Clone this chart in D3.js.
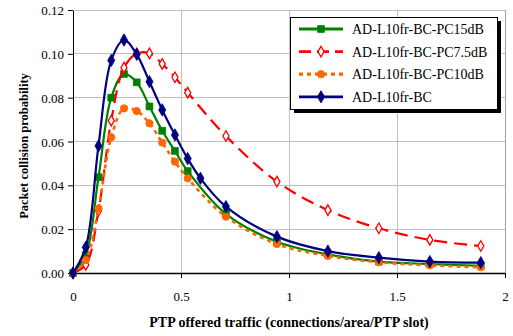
<!DOCTYPE html>
<html><head><meta charset="utf-8">
<script src="https://cdn.jsdelivr.net/npm/d3@7"></script>
<style>
html,body{margin:0;padding:0;background:#fff;}
svg{display:block;}
svg text{font-family:"Liberation Serif","Times New Roman",Times,serif !important;}
</style></head>
<body><svg id="c" width="513" height="336"></svg>
<script>
// ---- data ----
const seriesNames = ["AD-L10fr-BC-PC15dB","AD-L10fr-BC-PC7.5dB","AD-L10fr-BC-PC10dB","AD-L10fr-BC"];
const xFull = [0,0.059,0.118,0.177,0.236,0.295,0.354,0.413,0.472,0.531,0.590,0.708,0.944,1.180,1.416,1.652,1.888];
const xNo059 = [0,0.059,0.118,0.177,0.236,0.295,0.354,0.413,0.472,0.531,0.708,0.944,1.180,1.416,1.652,1.888];
const yPC15 = [0,0.0082,0.0437,0.0800,0.0908,0.0870,0.0760,0.0649,0.0557,0.0465,0.0270,0.0143,0.0085,0.0052,0.0041,0.0033];
const yPC75 = [0,0.0037,0.0284,0.0695,0.0937,0.1002,0.1002,0.0954,0.0893,0.0823,0.0625,0.0417,0.0287,0.0204,0.0151,0.0123];
const yPC10 = [0,0.0059,0.0295,0.0619,0.0751,0.0739,0.0683,0.0595,0.0508,0.0432,0.0257,0.0132,0.0078,0.0049,0.0035,0.0026];
const yBC   = [0,0.0117,0.0580,0.0970,0.1063,0.0998,0.0873,0.0744,0.0630,0.0522,0.0432,0.0303,0.0166,0.0100,0.0070,0.0052,0.0047];
const xTicks = [0,0.5,1,1.5,2];
const yTicks = [0,0.02,0.04,0.06,0.08,0.10,0.12];
const xTitle = "PTP offered traffic (connections/area/PTP slot)";
const yTitle = "Packet collision probability";

// ---- layout ----
const FF = '"Liberation Serif","Times New Roman",Times,serif';
const svg = d3.select("#c").attr("font-family",FF);
const L = 73, R = 505, T = 10, B = 273;
const x = d3.scaleLinear().domain([0,2]).range([L,R]);
const y = d3.scaleLinear().domain([0,0.12]).range([B,T]);

// gridlines
const grid = svg.append("g");
grid.selectAll("line.h").data(yTicks.filter(d=>d>0)).join("line")
  .attr("x1",L).attr("x2",R).attr("y1",d=>y(d)).attr("y2",d=>y(d))
  .attr("stroke","#c0c0c0").attr("stroke-width",1).attr("shape-rendering","crispEdges");
grid.selectAll("line.v").data(xTicks.filter(d=>d>0)).join("line")
  .attr("y1",T).attr("y2",B).attr("x1",d=>x(d)).attr("x2",d=>x(d))
  .attr("stroke","#c0c0c0").attr("stroke-width",1).attr("shape-rendering","crispEdges");

// axes
const xAxis = svg.append("g").attr("transform",`translate(0,${B})`)
  .call(d3.axisBottom(x).tickValues(xTicks).tickSize(5).tickSizeOuter(0).tickFormat(d3.format("")));
const yAxis = svg.append("g").attr("transform",`translate(${L},0)`)
  .call(d3.axisLeft(y).tickValues(yTicks).tickSize(5).tickSizeOuter(0).tickFormat(d3.format(".2f")));
[xAxis,yAxis].forEach(a=>{
  a.attr("font-family",FF).attr("font-size",13);
  a.select(".domain").attr("stroke","#000").attr("stroke-width",1);
  a.selectAll(".tick line").attr("stroke","#000");
  a.selectAll("text").attr("font-family",FF).attr("font-size",13).attr("fill","#000");
});
xAxis.selectAll(".tick text").attr("dy","0").attr("y",28);
yAxis.selectAll(".tick text").attr("x",-9).attr("dy","0.35em");
xAxis.select(".domain").attr("stroke-width",1.5);

// titles
svg.append("text").attr("x",289).attr("y",327).attr("text-anchor","middle").attr("font-family",FF)
  .attr("font-weight","bold").attr("font-size",14).text(xTitle);
svg.append("text").attr("transform","translate(28,146) rotate(-90)").attr("text-anchor","middle").attr("font-family",FF)
  .attr("font-weight","bold").attr("font-size",12.5).text(yTitle);

// series
const styles = [
  {color:"#008000", dash:null, width:2.2, marker:"square", fill:"#008000"},
  {color:"#ff0000", dash:"13,7", width:2.2, marker:"diamond", fill:"#fff"},
  {color:"#ff6600", dash:"4,4", width:2.6, marker:"circle", fill:"#ff6600"},
  {color:"#000080", dash:null, width:2.2, marker:"diamond", fill:"#000080"}
];
const data = [
  xNo059.map((d,i)=>[d,yPC15[i]]),
  xNo059.map((d,i)=>[d,yPC75[i]]),
  xNo059.map((d,i)=>[d,yPC10[i]]),
  xFull.map((d,i)=>[d,yBC[i]])
];
const line = d3.line().x(d=>x(d[0])).y(d=>y(d[1])).curve(d3.curveCatmullRom.alpha(0.5));
function sym(s){
  if(s.marker==="square") return d3.symbol(d3.symbolSquare,46)();
  if(s.marker==="circle") return d3.symbol(d3.symbolCircle,42)();
  return d3.symbol(d3.symbolDiamond, s.fill==="#fff"?32:44)();
}
data.forEach((pts,i)=>{
  const s = styles[i];
  const g = svg.append("g");
  g.append("path").attr("d",line(pts)).attr("fill","none").attr("stroke",s.color)
    .attr("stroke-width",s.width).attr("stroke-dasharray",s.dash);
  g.selectAll("path.m").data(pts).join("path").attr("class","m")
    .attr("transform",d=>`translate(${x(d[0])},${y(d[1])})`)
    .attr("d",sym(s)).attr("fill",s.fill).attr("stroke",s.color).attr("stroke-width",s.fill==="#fff"?1.3:0.8);
});

// right/top frame
svg.append("line").attr("x1",R).attr("x2",R).attr("y1",T).attr("y2",B).attr("stroke","#a0a0a0").attr("shape-rendering","crispEdges");
svg.append("line").attr("x1",L).attr("x2",R).attr("y1",T).attr("y2",T).attr("stroke","#c0c0c0").attr("shape-rendering","crispEdges");

// legend
const lg = svg.append("g");
const lx=290, ly=17, lw=207, lh=92;
lg.append("rect").attr("x",lx+4).attr("y",ly+4).attr("width",lw).attr("height",lh).attr("fill","#000");
lg.append("rect").attr("x",lx+0.5).attr("y",ly+0.5).attr("width",lw).attr("height",lh).attr("fill","#fff").attr("stroke","#000");
seriesNames.forEach((n,i)=>{
  const s = styles[i];
  const yy = ly + 12 + i*22.6;
  lg.append("line").attr("x1",299).attr("x2",343).attr("y1",yy).attr("y2",yy)
    .attr("stroke",s.color).attr("stroke-width",s.width+0.6).attr("stroke-dasharray",s.dash? (i===1?"12,6":"4,4"):null);
  lg.append("path").attr("transform",`translate(321,${yy})`).attr("d",sym(s))
    .attr("fill",s.fill).attr("stroke",s.color).attr("stroke-width",s.fill==="#fff"?1.3:0.8);
  lg.append("text").attr("x",352).attr("y",yy).attr("dy","0.35em").attr("font-family",FF).attr("font-size",14).text(n);
});
</script></body></html>
